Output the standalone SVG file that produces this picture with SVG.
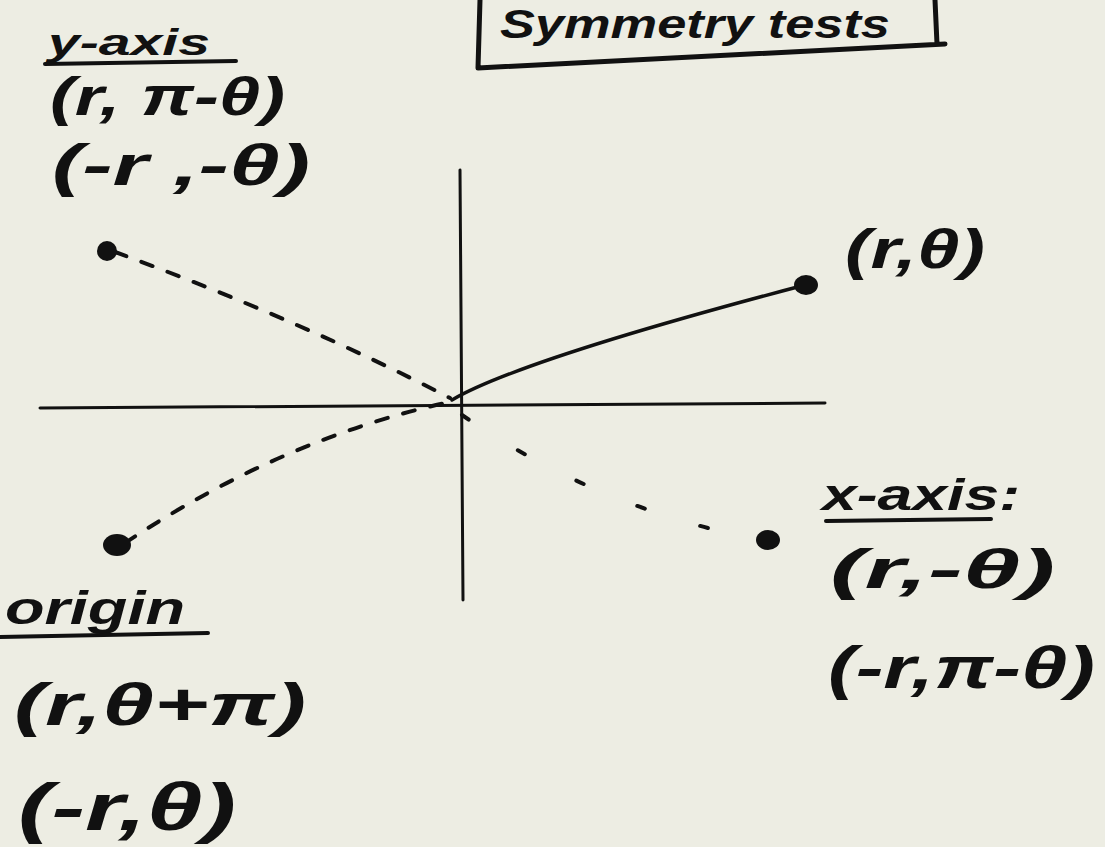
<svg xmlns="http://www.w3.org/2000/svg" width="1105" height="847" viewBox="0 0 1105 847">
<style>
.ink{stroke:#111;fill:none;stroke-linecap:round;stroke-linejoin:round}
.t{font-family:"Liberation Sans","DejaVu Sans",sans-serif;fill:#111;font-style:italic;font-weight:bold}
.dot{fill:#111}
</style>
<rect width="1105" height="847" fill="#ededE3"/>
<g id="title">
<path class="ink" stroke-width="5" d="M480,0 L478,68 M478,68 L945,44 M935,0 L937,44"/>
<text class="t" x="500" y="38" font-size="40" textLength="390" lengthAdjust="spacingAndGlyphs">Symmetry tests</text>
</g>
<g id="axes">
<path class="ink" stroke-width="3" d="M40,408 L825,403"/>
<path class="ink" stroke-width="3" d="M460,170 L463,600"/>
</g>
<g id="connectors">
<path class="ink" stroke-width="3.5" d="M452,400 Q520,360 805,285"/>
<path class="ink" stroke-width="4" stroke-dasharray="12,16" d="M115,252 Q300,320 450,398"/>
<path class="ink" stroke-width="4" stroke-dasharray="12,16" d="M125,543 Q280,440 445,403"/>
<path class="ink" stroke-width="4" stroke-dasharray="8,58" d="M462,415 Q600,510 762,540"/>
</g>
<g id="p-rtheta">
<ellipse class="dot" cx="806" cy="285" rx="12" ry="10"/>
<text class="t" x="845" y="268" font-size="56" textLength="140" lengthAdjust="spacingAndGlyphs">(r,θ)</text>
</g>
<g id="p-yaxis">
<circle class="dot" cx="107" cy="251" r="10"/>
<text class="t" x="48" y="55" font-size="36" textLength="162" lengthAdjust="spacingAndGlyphs">y-axis</text>
<path class="ink" stroke-width="4" d="M45,64 L236,61"/>
<text class="t" x="50" y="115" font-size="54" textLength="235" lengthAdjust="spacingAndGlyphs">(r, π-θ)</text>
<text class="t" x="52" y="185" font-size="58" textLength="258" lengthAdjust="spacingAndGlyphs">(-r ,-θ)</text>
</g>
<g id="p-origin">
<ellipse class="dot" cx="117" cy="545" rx="14" ry="11"/>
<text class="t" x="5" y="624" font-size="46" textLength="180" lengthAdjust="spacingAndGlyphs">origin</text>
<path class="ink" stroke-width="4" d="M0,637 L208,633"/>
<text class="t" x="14" y="725" font-size="60" textLength="292" lengthAdjust="spacingAndGlyphs">(r,θ+π)</text>
<text class="t" x="18" y="830" font-size="66" textLength="218" lengthAdjust="spacingAndGlyphs">(-r,θ)</text>
</g>
<g id="p-xaxis">
<ellipse class="dot" cx="768" cy="540" rx="12" ry="10"/>
<text class="t" x="822" y="510" font-size="44" textLength="198" lengthAdjust="spacingAndGlyphs">x-axis:</text>
<path class="ink" stroke-width="4" d="M826,521 L991,519"/>
<text class="t" x="830" y="588" font-size="56" textLength="225" lengthAdjust="spacingAndGlyphs">(r,-θ)</text>
<text class="t" x="828" y="688" font-size="60" textLength="267" lengthAdjust="spacingAndGlyphs">(-r,π-θ)</text>
</g>
</svg>
